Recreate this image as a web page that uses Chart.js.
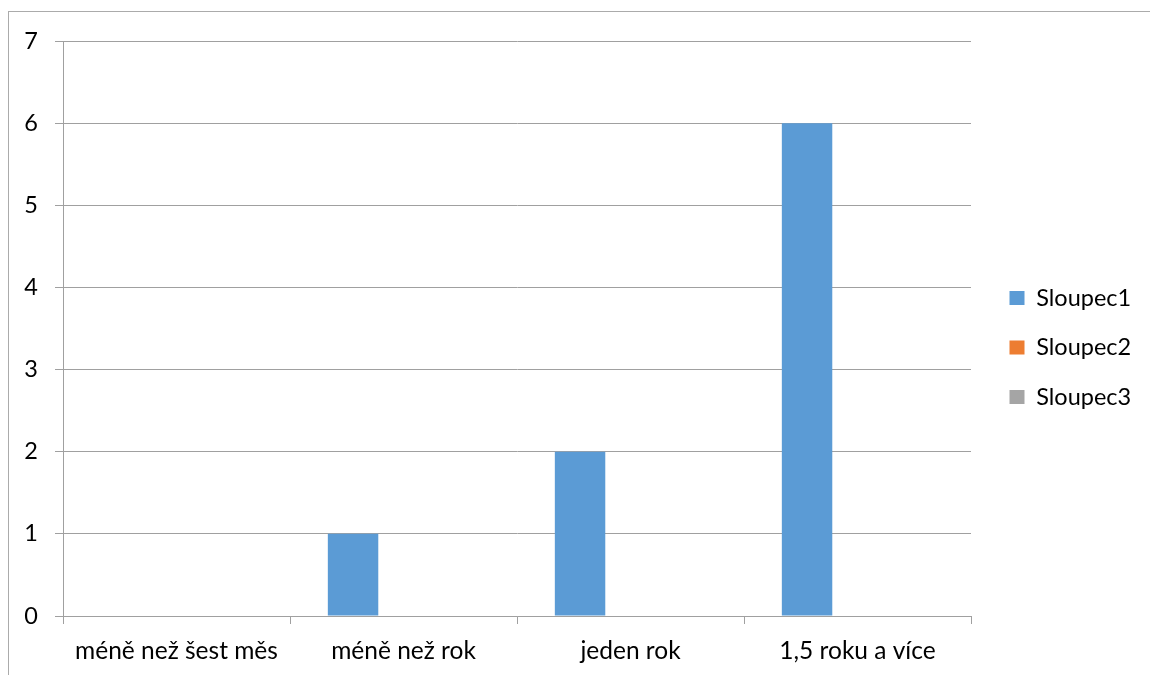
<!DOCTYPE html>
<html lang="cs">
<head>
<meta charset="utf-8">
<title>Sloupce</title>
<script src="https://cdn.jsdelivr.net/npm/chart.js@4/dist/chart.umd.min.js"></script>
<style>
  html, body { margin: 0; padding: 0; background: #ffffff; }
  #wrap { position: relative; width: 1150px; height: 675px; overflow: hidden; }
  #frame { position: absolute; left: 8px; top: 11px; width: 1200px; height: 700px;
           border-top: 1px solid #ababab; border-left: 1px solid #ababab; }
  canvas { position: absolute; left: 0; top: 0; }
</style>
</head>
<body>
<div id="wrap">
  <div id="frame"></div>
  <canvas id="chart" width="1150" height="675"></canvas>
</div>
<script>
// Categories and series values
const categories = ['méně než šest měs', 'méně než rok', 'jeden rok', '1,5 roku a více'];
const seriesNames = ['Sloupec1', 'Sloupec2', 'Sloupec3'];
const sloupec1 = [0, 1, 2, 6];
const sloupec2 = [null, null, null, null];
const sloupec3 = [null, null, null, null];
const yMin = 0;
const yMax = 7;
const yStep = 1;

const FONT = 'Lato, "Open Sans", sans-serif';
const FONT_SIZE = 23.5;
const GRID = '#a0a0a0';

// Gives the legend column a fixed width and nudges where it is drawn
const legendBox = {
  id: 'legendBox',
  beforeLayout(chart, args, opts) {
    const lg = chart.legend;
    if (lg && !lg._fixedFit) {
      const fit = lg.fit;
      lg.fit = function () { fit.call(this); this.width = opts.width; };
      lg._fixedFit = true;
    }
  },
  afterLayout(chart, args, opts) {
    const lg = chart.legend;
    if (!lg) return;
    lg.left += opts.dx; lg.right += opts.dx;
    lg.top += opts.dy; lg.bottom += opts.dy;
  }
};

Chart.defaults.font.family = FONT;
Chart.defaults.color = '#000000';

new Chart(document.getElementById('chart'), {
  type: 'bar',
  data: {
    labels: categories,
    datasets: [
      { label: seriesNames[0], data: sloupec1, backgroundColor: '#5B9BD5' },
      { label: seriesNames[1], data: sloupec2, backgroundColor: '#ED7D31' },
      { label: seriesNames[2], data: sloupec3, backgroundColor: '#A5A5A5' }
    ]
  },
  options: {
    responsive: false,
    animation: false,
    layout: { padding: { left: 0, top: 41, right: 0, bottom: 0 } },
    datasets: { bar: { categoryPercentage: 2 / 3, barPercentage: 1, borderWidth: 0 } },
    scales: {
      x: {
        offset: true,
        grid: { offset: true, drawOnChartArea: false, drawTicks: true, tickLength: 8, color: GRID, lineWidth: 1 },
        border: { display: true, color: GRID, width: 1 },
        ticks: { font: { size: 24.5 }, padding: 12, color: '#000' },
        afterFit(scale) { scale.height = 59; }
      },
      y: {
        min: yMin, max: yMax,
        grid: { color: GRID, lineWidth: 1, tickLength: 8, drawTicks: true },
        border: { display: true, color: GRID, width: 1 },
        ticks: { stepSize: yStep, font: { size: FONT_SIZE }, padding: 17, color: '#000' },
        afterFit(scale) { scale.width = 63; }
      }
    },
    plugins: {
      legend: {
        position: 'right',
        align: 'center',
        labels: { boxWidth: 15, boxHeight: 14, font: { size: FONT_SIZE }, padding: 26, color: '#000' }
      },
      legendBox: { width: 179, dx: 12.5, dy: -10.5 },
      tooltip: { enabled: false }
    }
  },
  plugins: [legendBox]
});
</script>
</body>
</html>
